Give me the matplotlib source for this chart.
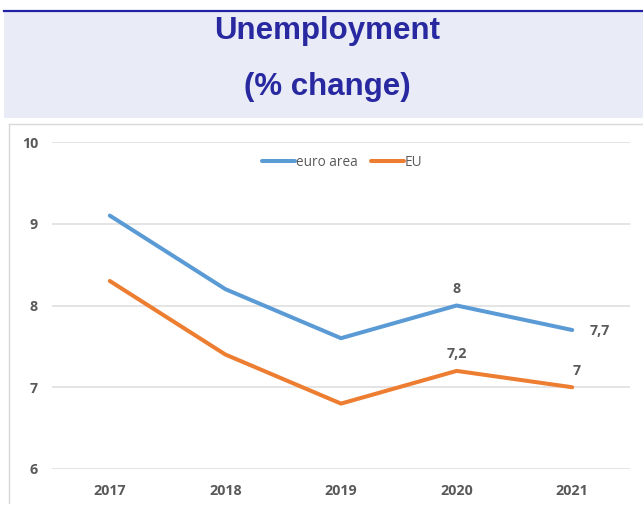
import matplotlib
matplotlib.use("Agg")
import matplotlib.pyplot as plt
from matplotlib.patches import Rectangle
from matplotlib.lines import Line2D

years = ["2017", "2018", "2019", "2020", "2021"]
euro_area = [9.1, 8.2, 7.6, 8.0, 7.7]
eu = [8.3, 7.4, 6.8, 7.2, 7.0]
y_ticks = [6, 7, 8, 9, 10]

W, H = 643, 505
fig = plt.figure(figsize=(W / 100, H / 100), dpi=100)
fig.patch.set_facecolor("white")

# Title band
fig.add_artist(Rectangle((4 / W, 1 - 118 / H), 1 - 4 / W, 108 / H,
                         transform=fig.transFigure, facecolor="#E9EBF7",
                         edgecolor="none", zorder=0))
fig.add_artist(Line2D([4 / W, 1], [1 - 10.5 / H, 1 - 10.5 / H],
                      transform=fig.transFigure, color="#2323A3", lw=1.6))
title_color = "#2828A0"
fig.text(327 / W, 1 - 31 / H, "Unemployment", ha="center", va="center",
         fontsize=22.5, fontweight="bold", color=title_color,
         family="Liberation Sans")
fig.text(327 / W, 1 - 87 / H, "(% change)", ha="center", va="center",
         fontsize=22.5, fontweight="bold", color=title_color,
         family="Liberation Sans")

# Chart frame: top and left edges only
frame_kw = dict(transform=fig.transFigure, color="#D9D9D9", lw=1.0)
fig.add_artist(Line2D([8.5 / W, 1], [1 - 124 / H, 1 - 124 / H], **frame_kw))
fig.add_artist(Line2D([8.5 / W, 8.5 / W], [1 - 124 / H, 1 - 503 / H],
                      **frame_kw))

ax = fig.add_axes([52 / W, (H - 469) / H, (630 - 52) / W, (469 - 142) / H])
ax.set_facecolor("none")
x = list(range(len(years)))
blue, orange = "#5B9BD5", "#ED7D31"
ax.plot(x, euro_area, color=blue, lw=2.9, solid_capstyle="round",
        label="euro area", zorder=3)
ax.plot(x, eu, color=orange, lw=2.9, solid_capstyle="round",
        label="EU", zorder=3)

ax.set_xlim(-0.5, 4.5)
ax.set_ylim(6, 10)
ax.set_yticks(y_ticks)
ax.set_xticks(x)
ax.set_xticklabels(years)
ax.grid(axis="y", color="#DCDCDC", lw=1.1, zorder=0)
for s in ax.spines.values():
    s.set_visible(False)
label_color = "#595959"
ax.tick_params(length=0, labelsize=10.3, labelcolor=label_color)
ax.tick_params(axis="y", pad=10)
ax.tick_params(axis="x", pad=11)
for lbl in ax.get_xticklabels() + ax.get_yticklabels():
    lbl.set_fontweight("bold")
    lbl.set_family("Open Sans")


def fmt(v):
    return f"{v:g}".replace(".", ",")


lab_kw = dict(fontsize=10.3, fontweight="bold", color=label_color,
              family="Open Sans", textcoords="offset points")
ax.annotate(fmt(euro_area[3]), (3, euro_area[3]), xytext=(0, 12),
            ha="center", va="center", **lab_kw)
ax.annotate(fmt(euro_area[4]), (4, euro_area[4]), xytext=(20, -1),
            ha="center", va="center", **lab_kw)
ax.annotate(fmt(eu[3]), (3, eu[3]), xytext=(0, 12),
            ha="center", va="center", **lab_kw)
ax.annotate(fmt(eu[4]), (4, eu[4]), xytext=(3, 12),
            ha="center", va="center", **lab_kw)

leg = ax.legend(loc="center", bbox_to_anchor=(290 / 578, 1 - 20 / 327),
                ncol=2, frameon=False, handlelength=2.4, handletextpad=0.05,
                columnspacing=1.0, prop={"family": "Open Sans", "size": 9.8})
for t in leg.get_texts():
    t.set_color(label_color)

fig.savefig("out.png", dpi=100)
